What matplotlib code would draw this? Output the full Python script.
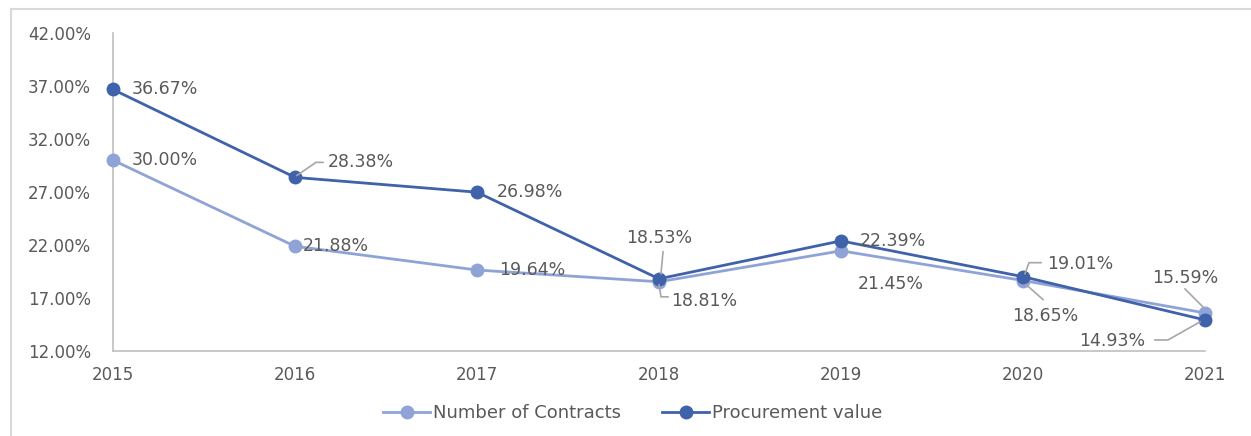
import numpy as np
import matplotlib
matplotlib.use("Agg")
import matplotlib.pyplot as plt
from matplotlib.lines import Line2D
from matplotlib.ticker import FuncFormatter

years = [2015, 2016, 2017, 2018, 2019, 2020, 2021]
contracts = [30.00, 21.88, 19.64, 18.53, 21.45, 18.65, 15.59]
procurement = [36.67, 28.38, 26.98, 18.81, 22.39, 19.01, 14.93]
yticks = [12, 17, 22, 27, 32, 37, 42]

c_light = "#8FA3D6"
c_dark = "#3F62AB"
txt = "#595959"
lead = "#A6A6A6"

plt.rcParams["font.family"] = ["DejaVu Sans"]

fig = plt.figure(figsize=(12.51, 4.36), dpi=100)
ax = fig.add_axes([113 / 1251, 1 - 351 / 436, (1205 - 113) / 1251, (351 - 33) / 436])

# chart-area border (top and left only, the rest is cropped)
bx, by = 10.5 / 1251, 1 - 9.5 / 436
fig.lines.append(Line2D([bx, 1.0], [by, by], transform=fig.transFigure, color="#D9D9D9", lw=1.5))
fig.lines.append(Line2D([bx, bx], [0, by], transform=fig.transFigure, color="#D9D9D9", lw=1.5))

ax.plot(years, contracts, color=c_light, lw=2, marker="o", ms=9, clip_on=False,
        label="Number of Contracts", zorder=3)
ax.plot(years, procurement, color=c_dark, lw=2, marker="o", ms=9, clip_on=False,
        label="Procurement value", zorder=4)

ax.set_xlim(2015, 2021)
ax.set_ylim(12, 42)
ax.set_yticks(yticks)
ax.yaxis.set_major_formatter(FuncFormatter(lambda v, p: f"{v:.2f}%"))
ax.set_xticks(years)
ax.tick_params(length=0, colors=txt, labelsize=12)
ax.tick_params(axis="y", pad=16)
ax.tick_params(axis="x", pad=11)
for s in ["top", "right"]:
    ax.spines[s].set_visible(False)
for s in ["left", "bottom"]:
    ax.spines[s].set_color("#BFBFBF")
    ax.spines[s].set_linewidth(1.2)

# label offsets in pixels: (dx, dy, ha, leader polyline offsets)
c_lab = [(19, 0, "left", None), (8, 0, "left", None), (22, 0, "left", None),
         (0, 44, "center", [(2, 8), (4, 30)]), (17, -33, "left", None),
         (-11, -35, "left", [(3, -4), (20, -19)]),
         (-20, 35, "center", [(-2, 6), (-20, 24)])]
p_lab = [(19, 0, "left", None), (33, 15, "left", [(2, 2), (21, 15), (28, 15)]),
         (20, 0, "left", None), (12, -22, "left", [(0, -6), (2, -18), (9, -18)]),
         (19, 0, "left", None), (24, 13, "left", [(2, 3), (6, 14), (18, 14)]),
         (-60, -21, "right", [(-5, -2), (-37, -20), (-50, -20)])]

fig.canvas.draw()
for series, labs in [(contracts, c_lab), (procurement, p_lab)]:
    for x, v, (dx, dy, ha, leader) in zip(years, series, labs):
        ax.annotate(f"{v:.2f}%", (x, v), xytext=(dx, dy), textcoords="offset pixels",
                    ha=ha, va="center", fontsize=12.5, color=txt, zorder=6)
        if leader:
            px, py = ax.transData.transform((x, v))
            xs = [px + o[0] for o in leader]
            ys = [py + o[1] for o in leader]
            fig.lines.append(Line2D(xs, ys, transform=None, color=lead, lw=1.2, zorder=5))

ax.legend(loc="upper center", bbox_to_anchor=(0.476, -0.115), ncol=2, frameon=False,
          fontsize=13, labelcolor=txt, handlelength=2.6, columnspacing=2.3, handletextpad=0.15)

fig.savefig("out.png", dpi=100)
